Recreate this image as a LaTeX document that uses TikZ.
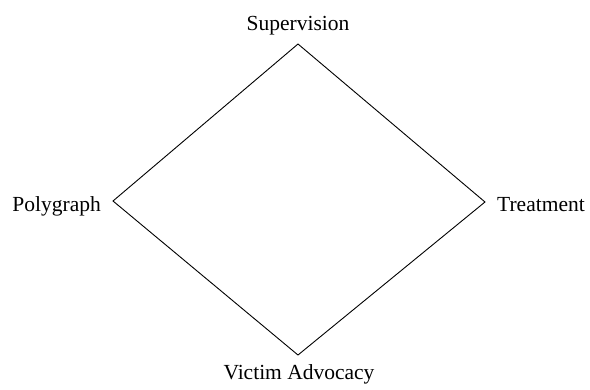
\documentclass[tikz,border=0pt]{standalone}
\usepackage{fontspec}
\setmainfont{Liberation Serif}
\begin{document}
\begin{tikzpicture}[x=1pt,y=-1pt,
  lbl/.style={inner sep=0pt,font=\fontsize{21.5}{26}\selectfont},
  edge/.style={line width=0.9pt,black}]
\useasboundingbox (0,0) rectangle (590,389);
\coordinate (T) at (298,44);
\coordinate (R) at (485,202);
\coordinate (B) at (298,355);
\coordinate (L) at (113,201);
\node[lbl,anchor=base] (sup) at (298,30) {Supervision};
\node[lbl,anchor=base east] (poly) at (101,211) {Polygraph};
\node[lbl,anchor=base west] (treat) at (497,211) {Treatment};
\node[lbl,anchor=base] (va) at (299,379) {Victim Advocacy};
\draw[edge,line join=miter] (T) -- (R) -- (B) -- (L) -- cycle;
\end{tikzpicture}
\end{document}
